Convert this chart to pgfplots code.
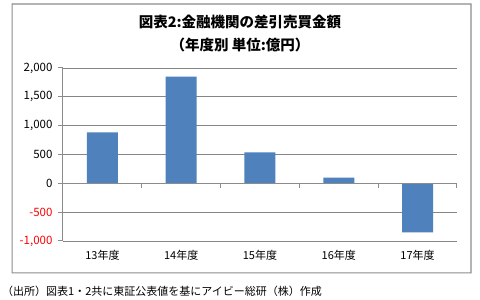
\documentclass[border=0pt]{standalone}
\usepackage{fontspec}
\setmainfont{Noto Sans CJK JP}
\usepackage{pgfplots}
\pgfplotsset{compat=1.18}
\definecolor{barblue}{HTML}{4F81BD}
\definecolor{gridgray}{HTML}{868686}
\definecolor{framegray}{rgb}{0.55,0.55,0.55}
\begin{document}
\begin{tikzpicture}
\useasboundingbox (0,0) rectangle (480pt,300pt);
\fill[white] (0,0) rectangle (480pt,300pt);
\fill[framegray, even odd rule] (11.5pt,26.5pt) rectangle (471.5pt,296.5pt) (12.7pt,27.7pt) rectangle (470.3pt,295.3pt);
\node[font=\fontsize{14.5}{16}\selectfont\bfseries] at (240pt,278pt) {図表2:金融機関の差引売買金額};
\node[font=\fontsize{14.5}{16}\selectfont\bfseries] at (240pt,255pt) {（年度別 単位:億円）};
\begin{axis}[
  at={(63pt,59pt)}, anchor=south west,
  width=394pt, height=173pt, scale only axis,
  xmin=-0.5, xmax=4.5, ymin=-1000, ymax=2000,
  ytick={-1000,-500,0,500,1000,1500,2000},
  yticklabels={{\textcolor{red}{-1,000}},{\textcolor{red}{-500}},{0},{500},{1,000},{1,500},{2,000}},
  xtick={0,1,2,3,4},
  xticklabels={13年度,14年度,15年度,16年度,17年度},
  axis y line*=left, axis x line*=bottom,
  x axis line style={draw=none},
  y axis line style={draw=framegray, line width=1pt},
  ymajorgrids, grid style={draw=gridgray, line width=0.7pt},
  x tick style={draw=none}, major x tick style={draw=none},
  y tick style={draw=framegray, line width=1pt},
  ytick align=outside, major tick length=5pt,
  xticklabel style={font=\fontsize{11}{13}\selectfont, yshift=-6pt},
  yticklabel style={font=\fontsize{11.5}{13}\selectfont, xshift=-2pt},
  clip=false,
]
\addplot[ybar, bar width=31pt, fill=barblue, draw=none] coordinates {
  (0,882) (1,1852) (2,538) (3,98) (4,-850)
};
\draw[draw=framegray, line width=1pt] (axis cs:-0.5,0) -- (axis cs:4.5,0);
\pgfplotsinvokeforeach{0.5,1.5,2.5,3.5,4.5}{
  \draw[draw=framegray, line width=1pt] (axis cs:#1,0) -- ([yshift=-5pt]axis cs:#1,0);
}
\end{axis}
\node[anchor=west, font=\fontsize{11}{13}\selectfont, inner sep=0pt] at (2pt,9pt) {（出所）図表1・2共に東証公表値を基にアイビー総研（株）作成};
\end{tikzpicture}
\end{document}
